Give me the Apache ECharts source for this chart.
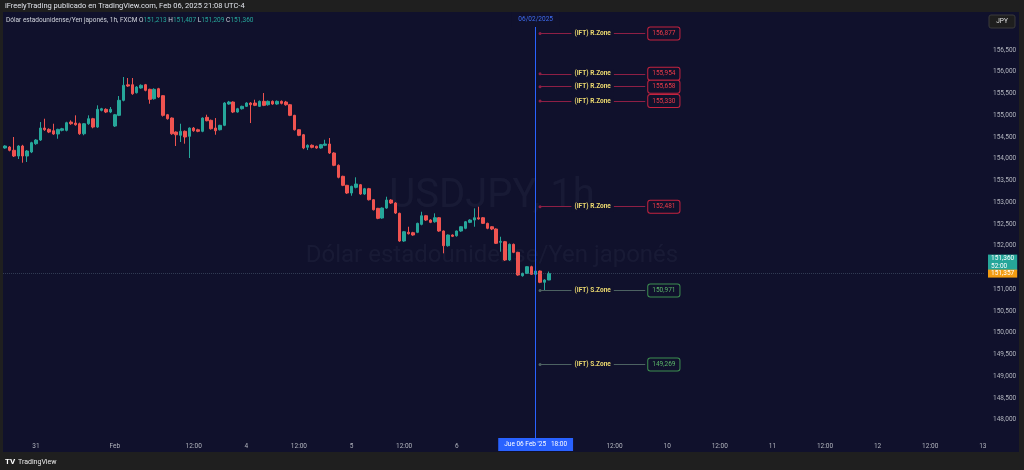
<!DOCTYPE html>
<html><head><meta charset="utf-8">
<script src="https://cdn.jsdelivr.net/npm/echarts@6/dist/echarts.min.js"></script>
<style>html,body{margin:0;padding:0;background:#1f1f1f;}#c{width:1024px;height:470px;}</style>
</head><body><div id="c"></div><script>
// ---------------- DATA ----------------
// hourly bars starting Thu 30 Jan 2025 17:00 (UTC-4), weekend closed Fri 18:00 -> Sun 18:00
const firstBar = [2025, 0, 30, 17];
const barSlots = 224;
const opens = [154.247,154.270,154.194,154.063,154.293,154.063,154.155,154.346,154.430,154.706,
154.676,154.644,154.569,154.653,154.653,154.844,154.821,154.805,154.575,154.805,
154.920,154.729,155.113,155.136,155.074,154.752,154.998,155.343,155.700,155.702,
155.518,155.626,155.702,155.596,155.380,155.610,155.450,155.012,154.936,154.614,
154.539,154.631,154.516,154.706,154.667,154.631,154.952,154.883,154.706,154.667,
154.768,155.258,155.304,155.074,155.150,155.205,155.281,155.281,155.205,155.320,
155.242,155.320,155.258,155.320,155.304,155.242,154.998,154.667,154.552,154.263,
154.309,154.286,154.247,154.309,154.339,154.132,153.849,153.596,153.389,153.212,
153.343,153.403,153.189,153.311,153.058,152.860,152.637,152.867,153.051,152.982,
152.745,152.109,152.309,152.300,152.309,152.492,152.690,152.591,152.552,152.644,
152.339,152.001,152.247,152.230,152.339,152.401,152.538,152.591,152.644,152.644,
152.515,152.437,152.385,152.080,152.093,151.672,152.033,151.849,151.311,151.366,
151.518,151.343,151.419,151.160,151.213];
const closes = [154.293,154.194,154.063,154.293,154.063,154.178,154.369,154.430,154.706,154.667,
154.614,154.569,154.676,154.690,154.828,154.805,154.782,154.575,154.805,154.920,
154.729,155.136,155.150,155.074,155.136,155.012,155.343,155.688,155.672,155.495,
155.649,155.688,155.573,155.366,155.596,155.419,154.998,154.920,154.575,154.552,
154.631,154.500,154.706,154.644,154.631,154.936,154.874,154.690,154.644,154.768,
155.281,155.304,155.074,155.150,155.205,155.281,155.242,155.228,155.320,155.228,
155.320,155.258,155.320,155.274,155.242,154.998,154.667,154.539,154.247,154.309,
154.263,154.247,154.323,154.339,154.132,153.849,153.573,153.389,153.212,153.366,
153.419,153.189,153.311,153.058,152.828,152.630,152.867,153.051,152.982,152.752,
152.109,152.322,152.276,152.247,152.515,152.690,152.591,152.538,152.644,152.339,
152.001,152.247,152.217,152.339,152.437,152.552,152.591,152.644,152.615,152.515,
152.401,152.385,152.056,152.100,151.672,152.033,151.849,151.327,151.366,151.518,
151.343,151.419,151.160,151.212,151.360];
const lows = [154.23,154.17,154.04,153.994,153.909,153.925,154.13,154.32,154.41,154.64,
154.59,154.55,154.460,154.63,154.63,154.78,154.76,154.55,154.54,154.78,
154.70,154.71,155.09,155.05,155.05,154.73,154.98,155.32,155.65,155.47,
155.50,155.61,155.55,155.265,155.36,155.40,154.97,154.90,154.55,154.293,
154.385,154.346,154.017,154.62,154.61,154.61,154.86,154.67,154.552,154.65,
154.75,155.24,155.05,155.06,155.13,155.19,154.821,155.21,155.19,155.21,
155.22,155.24,155.24,155.25,155.22,154.98,154.65,154.52,154.22,154.20,
154.24,154.23,154.23,154.29,154.11,153.83,153.55,153.37,153.19,153.15,
153.32,153.17,153.17,153.04,152.81,152.61,152.62,152.85,152.96,152.73,
152.09,152.09,152.26,152.23,152.29,152.47,152.57,152.52,152.53,152.32,
151.826,151.98,152.20,152.21,152.32,152.38,152.52,152.437,152.60,152.50,
152.38,152.36,152.04,151.863,151.65,151.65,151.83,151.31,151.29,151.35,
151.33,151.32,151.14,150.982,151.209];
const highs = [154.31,154.29,154.500,154.31,154.32,154.20,154.39,154.45,154.844,154.920,
154.70,154.805,154.69,154.71,154.85,154.883,154.998,154.83,154.82,154.998,
154.94,155.228,155.17,155.16,155.189,155.03,155.442,155.879,155.856,155.856,
155.67,155.71,155.72,155.61,155.62,155.63,155.46,155.03,154.95,154.63,
154.805,154.65,154.72,154.73,154.69,154.95,155.012,154.90,154.936,154.78,
155.30,155.33,155.32,155.17,155.22,155.30,155.30,155.357,155.34,155.511,
155.34,155.34,155.34,155.34,155.33,155.26,155.01,154.68,154.57,154.33,
154.33,154.30,154.34,154.437,154.477,154.15,153.87,153.61,153.40,153.38,
153.573,153.42,153.33,153.33,153.07,152.87,152.88,153.127,153.07,153.00,
152.76,152.34,152.437,152.32,152.53,152.782,152.70,152.61,152.745,152.66,
152.35,152.26,152.26,152.35,152.45,152.57,152.61,152.860,152.897,152.66,
152.53,152.45,152.40,152.207,152.11,152.05,152.05,151.86,151.38,151.53,
151.54,151.44,151.43,151.23,151.407];

const xTickTimes = ['2025-01-31 00:00','2025-02-02 18:00','2025-02-03 12:00','2025-02-04 00:00','2025-02-04 12:00',
  '2025-02-05 00:00','2025-02-05 12:00','2025-02-06 00:00','2025-02-07 12:00','2025-02-10 00:00','2025-02-10 12:00',
  '2025-02-11 00:00','2025-02-11 12:00','2025-02-12 00:00','2025-02-12 12:00','2025-02-13 00:00'];
const xTickTexts = ['31','Feb','12:00','4','12:00','5','12:00','6','12:00','10','12:00','11','12:00','12','12:00','13'];

// zone line level (as drawn) and the value printed in its box
const resistanceLevels = [156.877, 155.954, 155.658, 155.330, 152.897];
const resistanceTexts = ['156,877', '155,954', '155,658', '155,330', '152,481'];
const supportLevels = [150.971, 149.269];
const supportTexts = ['150,971', '149,269'];
const resistanceName = '(IFT) R.Zone';
const supportName = '(IFT) S.Zone';
const zoneFrom = '2025-02-06 19:00';
const zoneTo = '2025-02-09 19:00';

const cursorTime = '2025-02-06 18:00';
const cursorLabel = "Jue 06 Feb '25   18:00";
const cursorDate = '06/02/2025';

const lastPrice = 151.360;
const countdown = '52:00';
const secondPrice = 151.357;

const headerText = 'iFreelyTrading publicado en TradingView.com, Feb 06, 2025 21:08 UTC-4';
const symbolName = 'Dólar estadounidense/Yen japonés, 1h, FXCM';
const watermark1 = 'USDJPY, 1h';
const watermark2 = 'Dólar estadounidense/Yen japonés';

// ---------------- BUILD ----------------
const pad = n => String(n).padStart(2, '0');
function buildSlots() {
  const out = [];
  let t = Date.UTC(firstBar[0], firstBar[1], firstBar[2], firstBar[3]);
  while (out.length < barSlots) {
    const d = new Date(t), wd = d.getUTCDay(), h = d.getUTCHours();
    const closed = (wd === 5 && h >= 18) || wd === 6 || (wd === 0 && h < 18);
    if (!closed) out.push(d.getUTCFullYear() + '-' + pad(d.getUTCMonth() + 1) + '-' + pad(d.getUTCDate()) + ' ' + pad(h) + ':00');
    t += 3600000;
  }
  return out;
}
const cats = buildSlots();
const labelMap = {};
xTickTimes.forEach((t, i) => labelMap[t] = xTickTexts[i]);
const candles = opens.map((o, i) => [o, closes[i], lows[i], highs[i]]);
const fmt = v => v.toFixed(3).replace('.', ',');

const BG = '#10112c';
const UP = '#26a69a', DOWN = '#ef5350';
const FONT = 'Roboto, "Liberation Sans", sans-serif';
const AXC = '#b2b5be';
const CLEAR = 'rgba(0,0,0,0)';
const Y_MIN = 147.5, Y_MAX = 157.5;

const zoneLines = [];
function addZone(p, text, isR) {
  const lineColor = isR ? '#8e1f45' : '#4d6262';
  const boxBorder = isR ? '#c4233f' : '#3d8f50';
  const boxText = isR ? '#ef3b4a' : '#5cb86a';
  const name = isR ? resistanceName : supportName;
  zoneLines.push([
    { coord: [zoneFrom, p], symbol: 'circle', symbolSize: 3,
      lineStyle: { color: lineColor, width: 1, type: 'solid' },
      itemStyle: { color: isR ? '#d0306a' : '#7a9a9a' },
      label: { show: true, position: 'end', distance: 3, formatter: text, color: boxText, fontSize: 6.5,
        fontFamily: FONT, backgroundColor: BG, borderColor: boxBorder, borderWidth: 1, borderRadius: 2, padding: [3, 4, 2, 4] } },
    { coord: [zoneTo, p], symbol: 'none' }
  ]);
  zoneLines.push([
    { coord: [zoneFrom, p], symbol: 'none', lineStyle: { color: CLEAR, width: 1 },
      label: { show: true, position: 'middle', distance: 0, verticalAlign: 'middle', formatter: name, color: '#ecd96f',
        fontSize: 6.5, fontWeight: 'bold', fontFamily: FONT, backgroundColor: BG, padding: [1, 3] } },
    { coord: [zoneTo, p], symbol: 'none' }
  ]);
}
resistanceLevels.forEach((p, i) => addZone(p, resistanceTexts[i], true));
supportLevels.forEach((p, i) => addZone(p, supportTexts[i], false));

const last = candles[candles.length - 1];

const chart = echarts.init(document.getElementById('c'), null, { renderer: 'canvas', width: 1024, height: 470 });
const option = {
  backgroundColor: BG,
  animation: false,
  textStyle: { fontFamily: FONT },
  grid: { left: 3, right: 39, top: 6.5, bottom: 28.5 },
  xAxis: {
    type: 'category', data: cats, boundaryGap: true,
    axisLine: { show: false }, axisTick: { show: false }, splitLine: { show: false },
    axisLabel: { interval: (i, v) => labelMap[v] !== undefined, formatter: v => labelMap[v] || '',
      color: AXC, fontSize: 6.5, margin: 1, fontFamily: FONT, hideOverlap: false }
  },
  yAxis: {
    type: 'value', position: 'right', min: Y_MIN, max: Y_MAX, interval: 0.5, scale: false,
    axisLine: { show: false }, axisTick: { show: false }, splitLine: { show: false },
    axisLabel: { color: AXC, fontSize: 6.5, fontFamily: FONT, margin: 8,
      formatter: v => (v >= 157 || v <= 147.5 || Math.abs(v - 151.5) < 1e-6) ? '' : fmt(v) }
  },
  series: [{
    type: 'candlestick', data: candles, barWidth: 3,
    itemStyle: { color: UP, color0: DOWN, borderColor: UP, borderColor0: DOWN, borderWidth: 1 },
    markLine: {
      silent: true, symbol: 'none', animation: false,
      data: [
        [{ coord: [cursorTime, Y_MIN], symbol: 'none', lineStyle: { color: '#2962ff', type: 'solid', width: 1 },
           label: { show: true, position: 'start', distance: -3.5, formatter: cursorLabel, backgroundColor: '#2962ff',
             color: '#ffffff', fontSize: 6.5, fontFamily: FONT, padding: [3, 6, 3, 6] } },
         { coord: [cursorTime, Y_MAX], symbol: 'none' }],
        { yAxis: lastPrice, lineStyle: { color: 'rgba(90,110,130,0.45)', type: 'dotted', width: 1 },
          label: { show: true, position: 'end', distance: 3, formatter: fmt(lastPrice) + '\n' + countdown,
            backgroundColor: UP, color: '#ffffff', fontSize: 6.5, lineHeight: 7.5, fontFamily: FONT,
            padding: [1, 3, 0, 3], offset: [0, -11] } },
        { yAxis: secondPrice, lineStyle: { color: CLEAR, width: 1 },
          label: { show: true, position: 'end', distance: 3, formatter: fmt(secondPrice),
            backgroundColor: '#f39c12', color: '#ffffff', fontSize: 6.5, fontFamily: FONT, padding: [1, 3, 0, 3] } },
        ...zoneLines
      ]
    }
  }],
  graphic: [
    { type: 'text', z: 0, x: 492, y: 197, style: { text: watermark1, align: 'center', verticalAlign: 'middle',
        fill: 'rgba(130,135,160,0.08)', font: '40px ' + FONT } },
    { type: 'text', z: 0, x: 492, y: 256, style: { text: watermark2, align: 'center', verticalAlign: 'middle',
        fill: 'rgba(130,135,160,0.08)', font: '24px ' + FONT } },
    { type: 'rect', z: 100, shape: { x: 0, y: 0, width: 1024, height: 12 }, style: { fill: '#1f1f1f' } },
    { type: 'rect', z: 100, shape: { x: 0, y: 452, width: 1024, height: 18 }, style: { fill: '#1f1f1f' } },
    { type: 'rect', z: 100, shape: { x: 0, y: 0, width: 3, height: 470 }, style: { fill: '#1f1f1f' } },
    { type: 'rect', z: 100, shape: { x: 1019, y: 0, width: 5, height: 470 }, style: { fill: '#1f1f1f' } },
    { type: 'text', z: 101, x: 5, y: 6, style: { text: headerText, fill: '#e0e3ea', font: '7.5px ' + FONT, verticalAlign: 'middle' } },
    { type: 'text', z: 101, x: 6, y: 20, style: {
        text: '{n|' + symbolName + '} {k|O}{v|' + fmt(last[0]) + '} {k|H}{v|' + fmt(last[3]) + '} {k|L}{v|' + fmt(last[2]) + '} {k|C}{v|' + fmt(last[1]) + '}',
        verticalAlign: 'middle', font: '6.5px ' + FONT,
        rich: { n: { fill: '#d1d4dc', font: '6.5px ' + FONT }, k: { fill: '#d1d4dc', font: '6.5px ' + FONT }, v: { fill: UP, font: '6.5px ' + FONT } } } },
    { type: 'rect', z: 101, shape: { x: 989, y: 15, width: 26, height: 13, r: 2 }, style: { fill: '#1e1e1e', stroke: '#3a3a3a', lineWidth: 1 } },
    { type: 'text', z: 102, x: 1002, y: 21.5, style: { text: 'JPY', fill: '#e0e0e0', font: '6.5px ' + FONT, align: 'center', verticalAlign: 'middle' } },
    { type: 'text', z: 101, x: 5, y: 462, style: { text: 'TV', fill: '#ffffff', font: 'bold 8px ' + FONT, verticalAlign: 'middle' } },
    { type: 'text', z: 101, x: 18, y: 462, style: { text: 'TradingView', fill: '#e8e8e8', font: '7px ' + FONT, verticalAlign: 'middle' } }
  ]
};
chart.setOption(option);
const cx = chart.convertToPixel({ xAxisIndex: 0 }, cursorTime);
chart.setOption({ graphic: [
  { type: 'rect', id: 'dcover', z: 100, shape: { x: cx - 24, y: 12, width: 48, height: 15 }, style: { fill: BG } },
  { type: 'text', id: 'dlabel', z: 101, x: cx, y: 19, style: { text: cursorDate, fill: '#3f6df2', font: '6.5px ' + FONT, align: 'center', verticalAlign: 'middle' } }
] });
</script></body></html>
